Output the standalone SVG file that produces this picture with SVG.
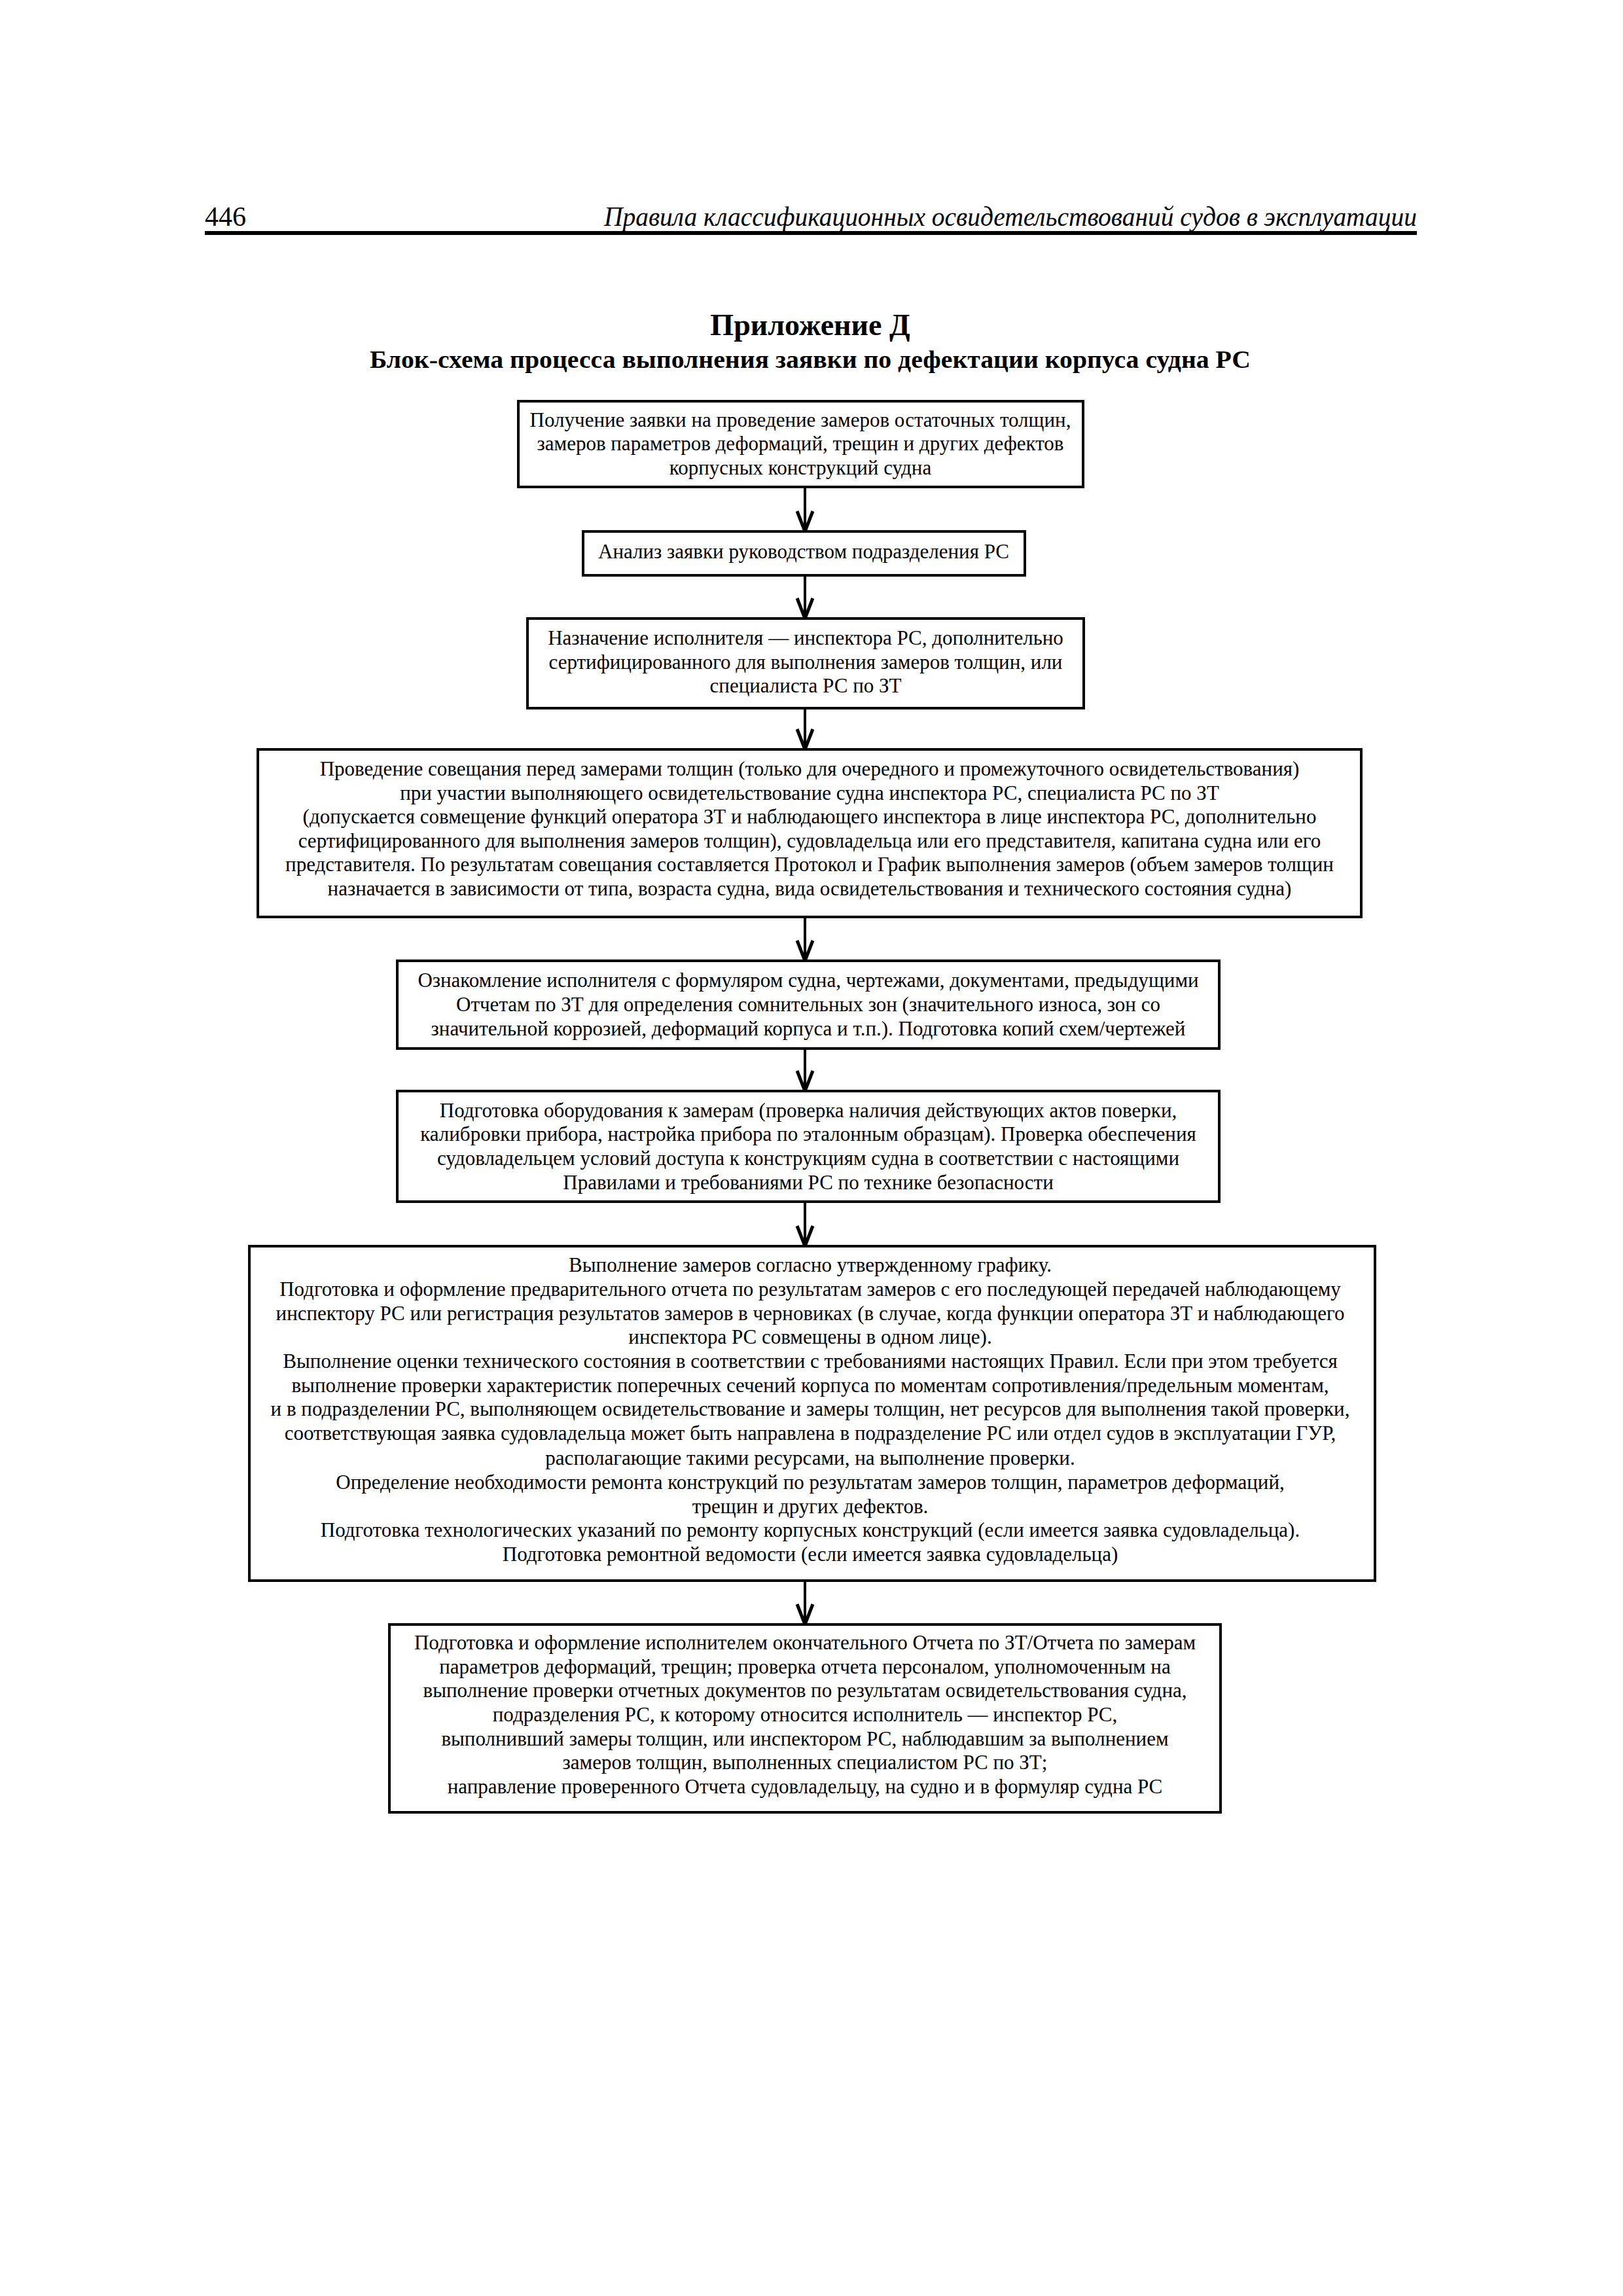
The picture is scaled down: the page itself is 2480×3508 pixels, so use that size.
<svg xmlns="http://www.w3.org/2000/svg" width="2480" height="3508" viewBox="0 0 2480 3508">
<style>
.bg{fill:#fff}
.box{fill:#fff;stroke:#000;stroke-width:4}
.t{font-family:"Liberation Serif","Times New Roman",serif;font-size:31px;fill:#000;text-anchor:middle}
.hdr{font-family:"Liberation Serif","Times New Roman",serif;font-size:42px;fill:#000}
.ttl{font-family:"Liberation Serif","Times New Roman",serif;font-weight:bold;fill:#000;text-anchor:middle}
.con{stroke:#000;stroke-width:4;fill:none}
</style>
<defs>
<marker id="ah" viewBox="-36 -16 40 32" markerWidth="40" markerHeight="32" refX="0" refY="0" orient="auto" markerUnits="userSpaceOnUse">
<path d="M -31 -12 L 0 0 L -31 12" fill="none" stroke="#000" stroke-width="5"/>
</marker>
</defs>
<rect class="bg" x="0" y="0" width="2480" height="3508"/>
<g id="header">
<text class="hdr" x="313" y="345">446</text>
<text class="hdr" x="2165" y="345" text-anchor="end" font-style="italic" textLength="1242" lengthAdjust="spacingAndGlyphs">Правила классификационных освидетельствований судов в эксплуатации</text>
<rect x="313" y="353" width="1852" height="6" fill="#000"/>
</g>
<g id="title">
<text class="ttl" x="1238" y="512" font-size="46">Приложение Д</text>
<text class="ttl" x="1238" y="562" font-size="38" textLength="1346" lengthAdjust="spacingAndGlyphs">Блок-схема процесса выполнения заявки по дефектации корпуса судна РС</text>
</g>
<g id="connectors">
<line class="con" x1="1230" y1="744" x2="1230" y2="812" marker-end="url(#ah)"/>
<line class="con" x1="1230" y1="879" x2="1230" y2="945" marker-end="url(#ah)"/>
<line class="con" x1="1230" y1="1082" x2="1230" y2="1145" marker-end="url(#ah)"/>
<line class="con" x1="1230" y1="1401" x2="1230" y2="1468" marker-end="url(#ah)"/>
<line class="con" x1="1230" y1="1602" x2="1230" y2="1667" marker-end="url(#ah)"/>
<line class="con" x1="1230" y1="1836" x2="1230" y2="1904" marker-end="url(#ah)"/>
<line class="con" x1="1230" y1="2415" x2="1230" y2="2482" marker-end="url(#ah)"/>
</g>
<g id="n1">
<rect class="box" x="792" y="613" width="863" height="131"/>
<text class="t" x="1223" y="652">Получение заявки на проведение замеров остаточных толщин,</text>
<text class="t" x="1223" y="688">замеров параметров деформаций, трещин и других дефектов</text>
<text class="t" x="1223" y="725">корпусных конструкций судна</text>
</g>
<g id="n2">
<rect class="box" x="891" y="812" width="675" height="67"/>
<text class="t" x="1228" y="853">Анализ заявки руководством подразделения РС</text>
</g>
<g id="n3">
<rect class="box" x="806" y="945" width="850" height="137"/>
<text class="t" x="1231" y="985">Назначение исполнителя — инспектора РС, дополнительно</text>
<text class="t" x="1231" y="1022">сертифицированного  для выполнения замеров толщин, или</text>
<text class="t" x="1231" y="1058">специалиста РС по ЗТ</text>
</g>
<g id="n4">
<rect class="box" x="394" y="1145" width="1686" height="256"/>
<text class="t" x="1237" y="1185">Проведение совещания перед замерами толщин (только для очередного и промежуточного освидетельствования)</text>
<text class="t" x="1237" y="1222">при участии выполняющего освидетельствование судна инспектора РС, специалиста РС по ЗТ</text>
<text class="t" x="1237" y="1258">(допускается совмещение функций оператора ЗТ и наблюдающего инспектора в лице инспектора РС, дополнительно</text>
<text class="t" x="1237" y="1295">сертифицированного для выполнения замеров толщин), судовладельца или его представителя, капитана судна или его</text>
<text class="t" x="1237" y="1331">представителя. По результатам совещания составляется Протокол и График выполнения замеров (объем замеров толщин</text>
<text class="t" x="1237" y="1368">назначается в зависимости от типа, возраста судна, вида освидетельствования и технического состояния судна)</text>
</g>
<g id="n5">
<rect class="box" x="607" y="1468" width="1256" height="134"/>
<text class="t" x="1235" y="1508">Ознакомление исполнителя с формуляром судна, чертежами, документами, предыдущими</text>
<text class="t" x="1235" y="1545">Отчетам по ЗТ для определения сомнительных зон (значительного износа, зон со</text>
<text class="t" x="1235" y="1582">значительной коррозией, деформаций корпуса и т.п.). Подготовка копий схем/чертежей</text>
</g>
<g id="n6">
<rect class="box" x="607" y="1667" width="1256" height="169"/>
<text class="t" x="1235" y="1707">Подготовка оборудования к замерам (проверка наличия действующих актов поверки,</text>
<text class="t" x="1235" y="1743">калибровки прибора, настройка прибора по эталонным образцам). Проверка обеспечения</text>
<text class="t" x="1235" y="1780">судовладельцем условий доступа к конструкциям судна в соответствии с настоящими</text>
<text class="t" x="1235" y="1817">Правилами и требованиями РС по технике безопасности</text>
</g>
<g id="n7">
<rect class="box" x="381" y="1904" width="1720" height="511"/>
<text class="t" x="1238" y="1943">Выполнение замеров согласно утвержденному графику.</text>
<text class="t" x="1238" y="1980">Подготовка и оформление предварительного отчета по результатам замеров с его последующей передачей наблюдающему</text>
<text class="t" x="1238" y="2017">инспектору РС или регистрация результатов замеров в черновиках (в случае, когда функции оператора ЗТ и наблюдающего</text>
<text class="t" x="1238" y="2053">инспектора РС совмещены в одном лице).</text>
<text class="t" x="1238" y="2090">Выполнение оценки технического состояния в соответствии с требованиями настоящих Правил. Если при этом требуется</text>
<text class="t" x="1238" y="2127">выполнение проверки характеристик поперечных сечений корпуса по моментам сопротивления/предельным моментам,</text>
<text class="t" x="1238" y="2163">и в подразделении РС, выполняющем освидетельствование и замеры толщин, нет ресурсов для выполнения такой проверки,</text>
<text class="t" x="1238" y="2200">соответствующая заявка судовладельца может быть направлена в подразделение РС или отдел судов в эксплуатации ГУР,</text>
<text class="t" x="1238" y="2238">располагающие такими ресурсами, на выполнение проверки.</text>
<text class="t" x="1238" y="2275">Определение необходимости ремонта конструкций по результатам замеров толщин, параметров деформаций,</text>
<text class="t" x="1238" y="2312">трещин и  других дефектов.</text>
<text class="t" x="1238" y="2348">Подготовка технологических указаний по ремонту корпусных конструкций (если имеется заявка судовладельца).</text>
<text class="t" x="1238" y="2385">Подготовка ремонтной ведомости (если имеется заявка судовладельца)</text>
</g>
<g id="n8">
<rect class="box" x="595" y="2482" width="1270" height="287"/>
<text class="t" x="1230" y="2520">Подготовка и оформление исполнителем окончательного Отчета по ЗТ/Отчета по замерам</text>
<text class="t" x="1230" y="2557">параметров деформаций, трещин; проверка отчета персоналом, уполномоченным на</text>
<text class="t" x="1230" y="2593">выполнение проверки отчетных документов по результатам освидетельствования судна,</text>
<text class="t" x="1230" y="2630">подразделения РС, к которому относится исполнитель — инспектор РС,</text>
<text class="t" x="1230" y="2667">выполнивший замеры толщин, или инспектором РС, наблюдавшим за выполнением</text>
<text class="t" x="1230" y="2703">замеров толщин, выполненных специалистом РС по ЗТ;</text>
<text class="t" x="1230" y="2740">направление проверенного Отчета судовладельцу, на судно и в формуляр судна РС</text>
</g>
</svg>
